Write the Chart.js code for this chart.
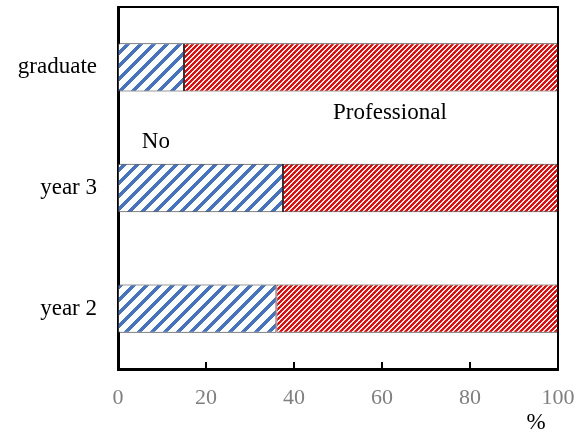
<!DOCTYPE html>
<html>
<head>
<meta charset="utf-8">
<script src="https://cdn.jsdelivr.net/npm/chart.js@4"></script>
<style>
  html, body { margin: 0; padding: 0; background: #fff; }
  #wrap { width: 584px; height: 433px; position: relative; }
</style>
</head>
<body>
<div id="wrap"><canvas id="chart"></canvas></div>
<script>
// catégories (de haut en bas)
const categories = ["graduate", "year 3", "year 2"];
// part "No" (%)
const noValues = [15, 37.5, 36];
// part "Professional" (%)
const proValues = [85, 62.5, 64];
// graduations de l'axe x
const xTicks = [0, 20, 40, 60, 80, 100];

// étiquettes dans le graphique : texte, valeur x, position y (index de catégorie)
const noteTexts = ["No", "Professional"];
const noteX = [8.6, 61.8];
const noteY = [0.62, 0.38];

const serif = "'Liberation Serif', 'Times New Roman', serif";

// motif hachuré en diagonale "/"
function hatch(color, size, width) {
    const c = document.createElement("canvas");
    c.width = size;
    c.height = size;
    const g = c.getContext("2d");
    g.fillStyle = "#fff";
    g.fillRect(0, 0, size, size);
    g.fillStyle = color;
    for (let y = 0; y < size; y++) {
        for (let x = 0; x < size; x++) {
            if ((x + y) % size < width) g.fillRect(x, y, 1, 1);
        }
    }
    return g.createPattern(c, "repeat");
}

const bluePattern = hatch("#4472c4", 13, 5);
const redPattern = hatch("#ff0000", 5, 3);

// on enlève la marge que Chart.js réserve pour les étiquettes des bords
function noEdgePadding(scale) {
    scale.paddingTop = 0;
    scale.paddingBottom = 0;
    scale.paddingLeft = 0;
    scale.paddingRight = 0;
}

// cadre, petites graduations vers l'intérieur, textes
const extras = {
    id: "extras",
    afterDraw(chart) {
        const ctx = chart.ctx;
        const a = chart.chartArea;
        const xs = chart.scales.x;
        const ys = chart.scales.y;
        ctx.save();
        ctx.strokeStyle = "#000";
        ctx.lineWidth = 2;
        ctx.beginPath();
        ctx.moveTo(a.left, a.top);
        ctx.lineTo(a.right, a.top);
        ctx.lineTo(a.right, a.bottom);
        ctx.stroke();

        xTicks.slice(1, -1).forEach(v => {
            const px = Math.round(xs.getPixelForValue(v));
            ctx.beginPath();
            ctx.moveTo(px, a.bottom);
            ctx.lineTo(px, a.bottom - 7);
            ctx.stroke();
        });

        ctx.fillStyle = "#000";
        ctx.font = "23px " + serif;
        ctx.textAlign = "center";
        ctx.textBaseline = "middle";
        noteTexts.forEach((t, i) => {
            ctx.fillText(t, xs.getPixelForValue(noteX[i]), ys.getPixelForValue(noteY[i]));
        });

        ctx.font = "23px " + serif;
        ctx.fillText("%", xs.getPixelForValue(95), a.bottom + 54);
        ctx.restore();
    }
};

const ctx = document.getElementById("chart").getContext("2d");

const chart = new Chart(ctx, {
    type: "bar",
    data: {
        labels: categories,
        datasets: [
            {
                label: "No",
                data: noValues,
                backgroundColor: bluePattern,
                borderColor: "#333",
                borderWidth: 1,
                borderSkipped: false,
                barPercentage: 0.4,
                categoryPercentage: 1.0
            },
            {
                label: "Professional",
                data: proValues,
                backgroundColor: redPattern,
                borderColor: "#333",
                borderWidth: 1,
                borderSkipped: false,
                barPercentage: 0.4,
                categoryPercentage: 1.0
            }
        ]
    },
    options: {
        indexAxis: "y",
        responsive: true,
        maintainAspectRatio: false,
        animation: false,
        layout: { padding: { top: 7, right: 26, left: 0, bottom: 0 } },
        plugins: {
            legend: { display: false },
            tooltip: { enabled: false }
        },
        scales: {
            x: {
                stacked: true,
                min: 0,
                max: 100,
                ticks: {
                    stepSize: 20,
                    color: "#7f7f7f",
                    padding: 16,
                    maxRotation: 0,
                    font: { family: serif, size: 22 }
                },
                grid: { display: false, drawTicks: false },
                border: { display: true, color: "#000", width: 3 },
                afterFit(scale) {
                    scale.height = 64;
                    noEdgePadding(scale);
                }
            },
            y: {
                stacked: true,
                ticks: {
                    color: "#000",
                    padding: 21,
                    font: { family: serif, size: 23 }
                },
                grid: { display: false, drawTicks: false },
                border: { display: true, color: "#000", width: 3 },
                afterFit(scale) {
                    scale.width = 118;
                    noEdgePadding(scale);
                }
            }
        }
    },
    plugins: [extras]
});
</script>
</body>
</html>
